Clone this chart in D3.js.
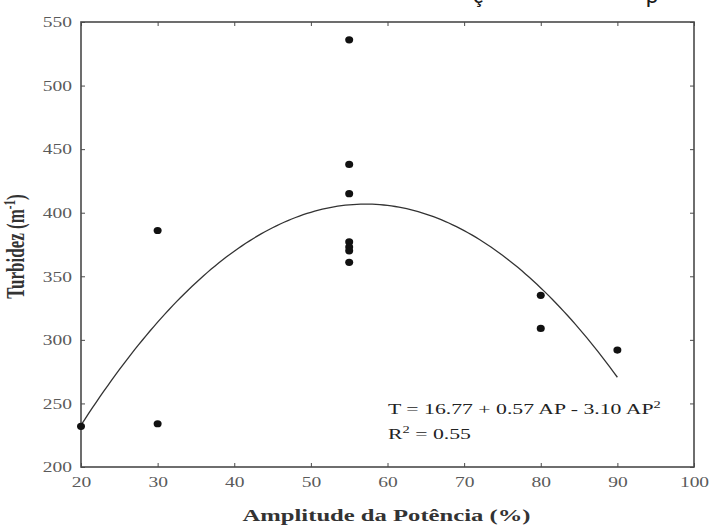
<!DOCTYPE html>
<html>
<head>
<meta charset="utf-8">
<script src="https://cdn.jsdelivr.net/npm/d3@7"></script>
<style>
  html, body { margin: 0; padding: 0; background: #fff; }
  svg { display: block; }
</style>
</head>
<body>
<svg id="chart" width="712" height="527"></svg>
<script>
// Observations: power amplitude (%) and turbidity (m-1)
const amplitude = [20, 30, 30, 55, 55, 55, 55, 55, 55, 55, 80, 80, 90];
const turbidity = [232, 386, 234, 536, 438, 415, 377, 373, 370, 361, 335, 309, 292];

// Quadratic fit drawn over the points: y = c0 + c1*x + c2*x^2
const fitCoefficients = [-4.9, 14.41, -0.1261];
const fitRange = [20, 90];

const xTicks = [20, 30, 40, 50, 60, 70, 80, 90, 100];
const yTicks = [200, 250, 300, 350, 400, 450, 500, 550];

const xTitle = "Amplitude da Potência (%)";
const equationLines = ["T = 16.77 + 0.57 AP - 3.10 AP", "R", " = 0.55"];

const svg = d3.select("#chart");
const plotLeft = 81, plotRight = 694, plotTop = 22, plotBottom = 467;

const x = d3.scaleLinear().domain([20, 100]).range([plotLeft, plotRight]);
const y = d3.scaleLinear().domain([200, 550]).range([plotBottom, plotTop]);

const frameColor = "#4a4a4a";
const labelColor = "#5a5a5a";
const serif = "'Liberation Serif', 'DejaVu Serif', serif";
const wide = 1.45;      // horizontal stretch of the lettering
const tickWide = 1.3;

// Clipped caption line above the plot (only descenders remain)
[["ç", 478], ["p", 652]].forEach(([ch, cx]) => {
  svg.append("text").attr("x", cx).attr("y", 3)
    .attr("font-family", "Calibri, 'Open Sans', sans-serif").attr("font-size", 24)
    .attr("fill", "#1a1a1a").attr("text-anchor", "middle").text(ch);
});

// Axes with inward ticks
function styleAxis(g) {
  g.select(".domain").remove();
  g.selectAll(".tick line").attr("stroke", frameColor).attr("stroke-width", 1);
  g.selectAll(".tick text")
    .attr("fill", labelColor)
    .attr("font-family", serif).attr("font-size", 15)
    .each(function () {
      const t = d3.select(this);
      const tx = +t.attr("x") || 0;
      t.attr("x", tx / tickWide).attr("transform", `scale(${tickWide},1)`);
    });
}

svg.append("g").attr("transform", `translate(0,${plotBottom})`)
  .call(d3.axisBottom(x).tickValues(xTicks).tickSizeInner(-4).tickSizeOuter(0).tickPadding(9))
  .call(styleAxis);
svg.append("g").attr("transform", `translate(${plotLeft},0)`)
  .call(d3.axisLeft(y).tickValues(yTicks).tickSizeInner(-4).tickSizeOuter(0).tickPadding(9))
  .call(styleAxis);
svg.append("g").attr("transform", `translate(0,${plotTop})`)
  .call(d3.axisTop(x).tickValues(xTicks).tickSizeInner(-4).tickSizeOuter(0).tickFormat(""))
  .call(styleAxis);
svg.append("g").attr("transform", `translate(${plotRight},0)`)
  .call(d3.axisRight(y).tickValues(yTicks).tickSizeInner(-4).tickSizeOuter(0).tickFormat(""))
  .call(styleAxis);

// Plot frame
svg.append("rect")
  .attr("x", plotLeft).attr("y", plotTop)
  .attr("width", plotRight - plotLeft).attr("height", plotBottom - plotTop)
  .attr("fill", "none").attr("stroke", frameColor).attr("stroke-width", 1.6);

// Fitted curve
const fitX = d3.range(fitRange[0], fitRange[1] + 0.001, 0.5);
const fitY = v => fitCoefficients[0] + fitCoefficients[1] * v + fitCoefficients[2] * v * v;
svg.append("path")
  .datum(fitX)
  .attr("fill", "none").attr("stroke", "#333").attr("stroke-width", 1.3)
  .attr("d", d3.line().x(v => x(v)).y(v => y(fitY(v))));

// Points
svg.append("g").selectAll("ellipse")
  .data(amplitude.map((a, i) => [a, turbidity[i]]))
  .join("ellipse")
  .attr("cx", d => x(d[0])).attr("cy", d => y(d[1]))
  .attr("rx", 4).attr("ry", 3.6).attr("fill", "#111");

// Regression equation
const eq = svg.append("g").attr("transform", `translate(388,414) scale(${wide},1)`)
  .append("text")
  .attr("font-family", serif).attr("font-size", 15).attr("fill", "#222");
eq.append("tspan").text(equationLines[0]);
eq.append("tspan").attr("dy", -6).attr("font-size", 10).text("2");
const r2 = svg.append("g").attr("transform", `translate(388,439) scale(${wide},1)`)
  .append("text")
  .attr("font-family", serif).attr("font-size", 15).attr("fill", "#222");
r2.append("tspan").text(equationLines[1]);
r2.append("tspan").attr("dy", -6).attr("font-size", 10).text("2");
r2.append("tspan").attr("dy", 6).text(equationLines[2]);

// Axis titles
svg.append("g").attr("transform", `translate(${(plotLeft + plotRight) / 2 - 1},521) scale(${wide},1)`)
  .append("text")
  .attr("text-anchor", "middle")
  .attr("font-family", serif).attr("font-weight", "bold").attr("font-size", 17)
  .attr("fill", "#333").text(xTitle);

const yt = svg.append("g")
  .attr("transform", `translate(24,${(plotTop + plotBottom) / 2 + 2}) scale(${wide},1) rotate(-90)`)
  .append("text")
  .attr("text-anchor", "middle")
  .attr("font-family", serif).attr("font-weight", "bold").attr("font-size", 17)
  .attr("fill", "#333");
yt.append("tspan").text("Turbidez (m");
yt.append("tspan").attr("dy", -6).attr("font-size", 11).text("-1");
yt.append("tspan").attr("dy", 6).text(")");
</script>
</body>
</html>
